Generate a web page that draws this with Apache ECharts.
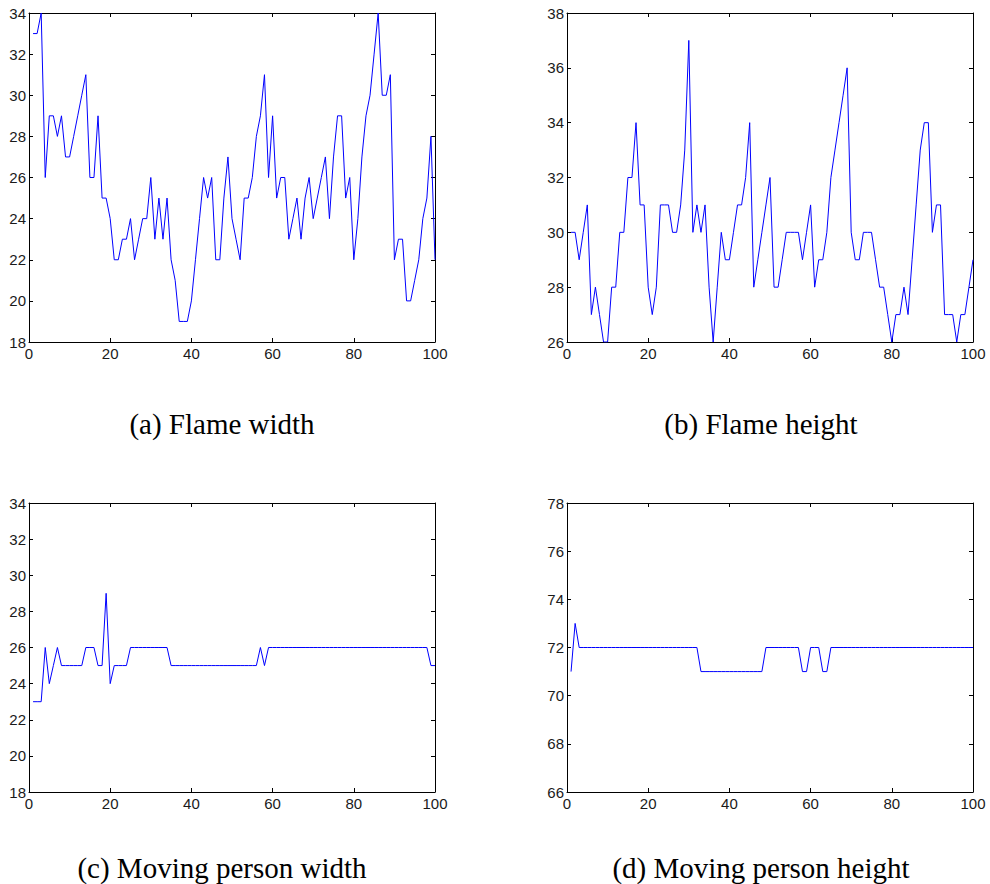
<!DOCTYPE html>
<html>
<head>
<meta charset="utf-8">
<script src="https://cdn.jsdelivr.net/npm/echarts@6/dist/echarts.min.js"></script>
<style>
  html, body { margin: 0; padding: 0; background: #ffffff; overflow: hidden; }
  #chart { width: 990px; height: 884px; }
</style>
</head>
<body>
<div id="chart"></div>
<script>
// ---------- data (frame index 1..100) ----------
const xTicks = [0, 20, 40, 60, 80, 100];

const flameWidth = [
  33, 33, 34, 26, 29, 29, 28, 29, 27, 27,
  28, 29, 30, 31, 26, 26, 29, 25, 25, 24,
  22, 22, 23, 23, 24, 22, 23, 24, 24, 26,
  23, 25, 23, 25, 22, 21, 19, 19, 19, 20,
  22, 24, 26, 25, 26, 22, 22, 25, 27, 24,
  23, 22, 25, 25, 26, 28, 29, 31, 26, 29,
  25, 26, 26, 23, 24, 25, 23, 25, 26, 24,
  25, 26, 27, 24, 27, 29, 29, 25, 26, 22,
  24, 27, 29, 30, 32, 34, 30, 30, 31, 22,
  23, 23, 20, 20, 21, 22, 24, 25, 28, 22
];

const flameHeight = [
  30, 30, 29, 30, 31, 27, 28, 27, 26, 26,
  28, 28, 30, 30, 32, 32, 34, 31, 31, 28,
  27, 28, 31, 31, 31, 30, 30, 31, 33, 37,
  30, 31, 30, 31, 28, 26, 28, 30, 29, 29,
  30, 31, 31, 32, 34, 28, 29, 30, 31, 32,
  28, 28, 29, 30, 30, 30, 30, 29, 30, 31,
  28, 29, 29, 30, 32, 33, 34, 35, 36, 30,
  29, 29, 30, 30, 30, 29, 28, 28, 27, 26,
  27, 27, 28, 27, 29, 31, 33, 34, 34, 30,
  31, 31, 27, 27, 27, 26, 27, 27, 28, 29
];

const personWidth = [
  23, 23, 23, 26, 24, 25, 26, 25, 25, 25,
  25, 25, 25, 26, 26, 26, 25, 25, 29, 24,
  25, 25, 25, 25, 26, 26, 26, 26, 26, 26,
  26, 26, 26, 26, 25, 25, 25, 25, 25, 25,
  25, 25, 25, 25, 25, 25, 25, 25, 25, 25,
  25, 25, 25, 25, 25, 25, 26, 25, 26, 26,
  26, 26, 26, 26, 26, 26, 26, 26, 26, 26,
  26, 26, 26, 26, 26, 26, 26, 26, 26, 26,
  26, 26, 26, 26, 26, 26, 26, 26, 26, 26,
  26, 26, 26, 26, 26, 26, 26, 26, 25, 25
];

const personHeight = [
  71, 73, 72, 72, 72, 72, 72, 72, 72, 72,
  72, 72, 72, 72, 72, 72, 72, 72, 72, 72,
  72, 72, 72, 72, 72, 72, 72, 72, 72, 72,
  72, 72, 71, 71, 71, 71, 71, 71, 71, 71,
  71, 71, 71, 71, 71, 71, 71, 71, 72, 72,
  72, 72, 72, 72, 72, 72, 72, 71, 71, 72,
  72, 72, 71, 71, 72, 72, 72, 72, 72, 72,
  72, 72, 72, 72, 72, 72, 72, 72, 72, 72,
  72, 72, 72, 72, 72, 72, 72, 72, 72, 72,
  72, 72, 72, 72, 72, 72, 72, 72, 72, 72
];

const captions = ['(a) Flame width', '(b) Flame height', '(c) Moving person width', '(d) Moving person height'];
const yRanges = [[18, 34], [26, 38], [18, 34], [66, 78]];
const seriesList = [flameWidth, flameHeight, personWidth, personHeight];

// ---------- layout ----------
const grids = [
  { left: 29, top: 13, width: 406, height: 329 },
  { left: 567, top: 13, width: 406, height: 329 },
  { left: 29, top: 503, width: 406, height: 289 },
  { left: 567, top: 503, width: 406, height: 289 }
];
const captionPos = [[222, 424], [761, 424], [222, 868], [761, 868]];

const labelFont = { color: '#1a1a1a', fontFamily: 'Liberation Sans', fontSize: 15 };
const black = { color: '#000000', width: 1 };

const xAxes = [], yAxes = [], series = [], graphics = [];
grids.forEach((g, i) => {
  const [ymin, ymax] = yRanges[i];
  // bottom x axis
  xAxes.push({
    type: 'value', gridIndex: i, position: 'bottom', min: 0, max: 100, interval: 20,
    axisLine: { show: true, onZero: false, lineStyle: black },
    axisTick: { show: true, inside: true, length: 4, lineStyle: black },
    axisLabel: Object.assign({ show: true, margin: 4, formatter: v => (xTicks.indexOf(v) >= 0 ? String(v) : '') }, labelFont),
    splitLine: { show: false }
  });
  // top x axis (box + ticks)
  xAxes.push({
    type: 'value', gridIndex: i, position: 'top', min: 0, max: 100, interval: 20,
    axisLine: { show: true, onZero: false, lineStyle: black },
    axisTick: { show: true, inside: true, length: 4, lineStyle: black },
    axisLabel: { show: false },
    splitLine: { show: false }
  });
  // left y axis
  yAxes.push({
    type: 'value', gridIndex: i, position: 'left', min: ymin, max: ymax, interval: 2,
    axisLine: { show: true, onZero: false, lineStyle: black },
    axisTick: { show: true, inside: true, length: 4, lineStyle: black },
    axisLabel: Object.assign({ show: true, margin: 3 }, labelFont),
    splitLine: { show: false }
  });
  // right y axis
  yAxes.push({
    type: 'value', gridIndex: i, position: 'right', min: ymin, max: ymax, interval: 2,
    axisLine: { show: true, onZero: false, lineStyle: black },
    axisTick: { show: true, inside: true, length: 4, lineStyle: black },
    axisLabel: { show: false },
    splitLine: { show: false }
  });
  series.push({
    type: 'line',
    xAxisIndex: i * 2,
    yAxisIndex: i * 2,
    data: seriesList[i].map((v, k) => [k + 1, v]),
    showSymbol: false,
    symbol: 'none',
    clip: true,
    lineStyle: { color: '#0000ff', width: 1 },
    emphasis: { disabled: true }
  });
  graphics.push({
    type: 'text',
    x: captionPos[i][0],
    y: captionPos[i][1],
    style: {
      text: captions[i],
      font: '29px "Liberation Serif"',
      fill: '#000000',
      textAlign: 'center',
      textVerticalAlign: 'middle'
    }
  });
});

const chart = echarts.init(document.getElementById('chart'), null, { renderer: 'svg' });
chart.setOption({
  animation: false,
  backgroundColor: '#ffffff',
  grid: grids.map(g => Object.assign({ containLabel: false }, g)),
  xAxis: xAxes,
  yAxis: yAxes,
  series: series,
  graphic: graphics
});
</script>
</body>
</html>
